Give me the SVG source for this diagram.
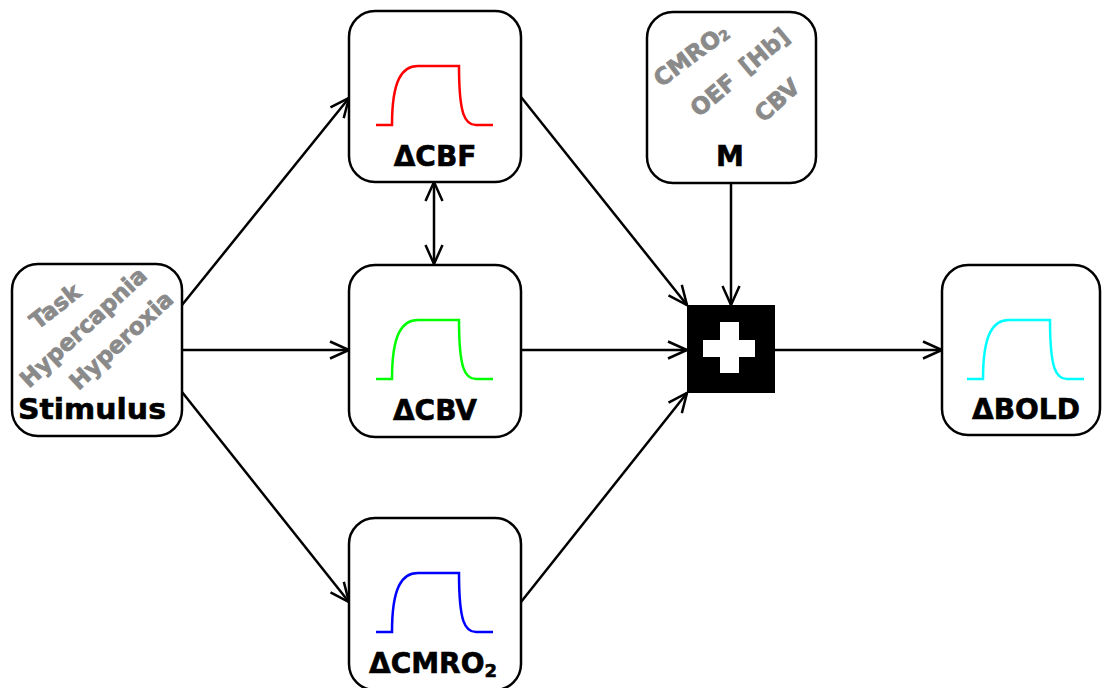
<svg xmlns="http://www.w3.org/2000/svg" xmlns:xlink="http://www.w3.org/1999/xlink" width="1104" height="688" viewBox="0 0 1104 688">
  <style>
    .box { fill: #ffffff; stroke: #000000; stroke-width: 2.5; }
    .label { font-family: "DejaVu Sans", "Liberation Sans", sans-serif; font-weight: bold; font-size: 28px; fill: #000000; stroke: #000000; stroke-width: 0.6; text-anchor: middle; }
    .sub { font-size: 18px; }
    .factor { font-family: "DejaVu Sans", "Liberation Sans", sans-serif; font-weight: bold; font-size: 23px; fill: #8a8a8a; stroke: #8a8a8a; stroke-width: 0.8; text-anchor: middle; }
    .link { fill: none; stroke: #000000; stroke-width: 2.5; marker-end: url(#arrow); }
    .curve { fill: none; stroke-width: 2.5; }
  </style>
  <defs>
    <marker id="arrow" markerUnits="userSpaceOnUse" markerWidth="26" markerHeight="26" viewBox="-22 -13 26 26" refX="0" refY="0" orient="auto-start-reverse" overflow="visible">
      <path d="M-19,-8.5 L0,0 L-19,8.5" fill="none" stroke="#000000" stroke-width="2.5"/>
    </marker>
    <!-- response time course: onset, plateau, return to baseline -->
    <path id="response" d="M27,114 H43 C43,69 53,55 69,55 H110 C110,104 116,114 127,114 H144"/>
  </defs>

  <!-- connectors -->
  <g id="connectors">
    <line class="link" x1="182" y1="305" x2="349" y2="98"/>
    <line class="link" x1="182" y1="350" x2="349" y2="350"/>
    <line class="link" x1="182" y1="392" x2="349" y2="602"/>
    <line class="link" x1="434" y1="182" x2="434" y2="264" marker-start="url(#arrow)"/>
    <line class="link" x1="521" y1="97" x2="687" y2="305"/>
    <line class="link" x1="521" y1="350" x2="687" y2="350"/>
    <line class="link" x1="521" y1="602" x2="687" y2="393"/>
    <line class="link" x1="731" y1="183" x2="731" y2="305"/>
    <line class="link" x1="775" y1="350" x2="942" y2="350"/>
  </g>

  <!-- stimulus -->
  <g id="stimulus">
    <rect class="box" x="12" y="264" width="170" height="172" rx="26"/>
    <text class="factor" transform="translate(55,306) rotate(-38)" dy="0.36em">Task</text>
    <text class="factor" transform="translate(83,327) rotate(-43)" dy="0.36em">Hypercapnia</text>
    <text class="factor" transform="translate(121,340) rotate(-43)" dy="0.36em">Hyperoxia</text>
    <text class="label" x="92" y="419" textLength="148" lengthAdjust="spacingAndGlyphs">Stimulus</text>
  </g>

  <!-- blood flow -->
  <g id="cbf">
    <rect class="box" x="349" y="11" width="172" height="171" rx="26"/>
    <use xlink:href="#response" href="#response" class="curve" stroke="#ff0000" transform="translate(349,11)"/>
    <text class="label" x="435" y="166">ΔCBF</text>
  </g>

  <!-- blood volume -->
  <g id="cbv">
    <rect class="box" x="349" y="265" width="172" height="172" rx="26"/>
    <use xlink:href="#response" href="#response" class="curve" stroke="#00ff00" transform="translate(349,265)"/>
    <text class="label" x="435" y="420">ΔCBV</text>
  </g>

  <!-- oxygen metabolism -->
  <g id="cmro2">
    <rect class="box" x="349" y="518" width="172" height="172" rx="26"/>
    <use xlink:href="#response" href="#response" class="curve" stroke="#0000ff" transform="translate(349,518)"/>
    <text class="label" x="433" y="673">ΔCMRO<tspan class="sub" dy="4">2</tspan></text>
  </g>

  <!-- calibration constant -->
  <g id="m">
    <rect class="box" x="647" y="12" width="169" height="171" rx="26"/>
    <text class="factor" transform="translate(691,55) rotate(-37)" dy="0.36em">CMRO<tspan font-size="14" dy="1">2</tspan></text>
    <text class="factor" transform="translate(764,51) rotate(-40)" dy="0.36em">[Hb]</text>
    <text class="factor" transform="translate(713,95) rotate(-40)" dy="0.36em">OEF</text>
    <text class="factor" transform="translate(777,100) rotate(-42)" dy="0.36em">CBV</text>
    <text class="label" x="730" y="166">M</text>
  </g>

  <!-- summation -->
  <g id="sum">
    <rect x="687" y="305" width="88" height="88" fill="#000000"/>
    <rect x="703" y="340" width="52" height="17" fill="#ffffff"/>
    <rect x="720" y="322" width="19" height="51" fill="#ffffff"/>
  </g>

  <!-- BOLD signal -->
  <g id="bold">
    <rect class="box" x="942" y="265" width="158" height="170" rx="26"/>
    <use xlink:href="#response" href="#response" class="curve" stroke="#00ffff" transform="translate(940,265)"/>
    <text class="label" x="1026" y="419">ΔBOLD</text>
  </g>
</svg>
